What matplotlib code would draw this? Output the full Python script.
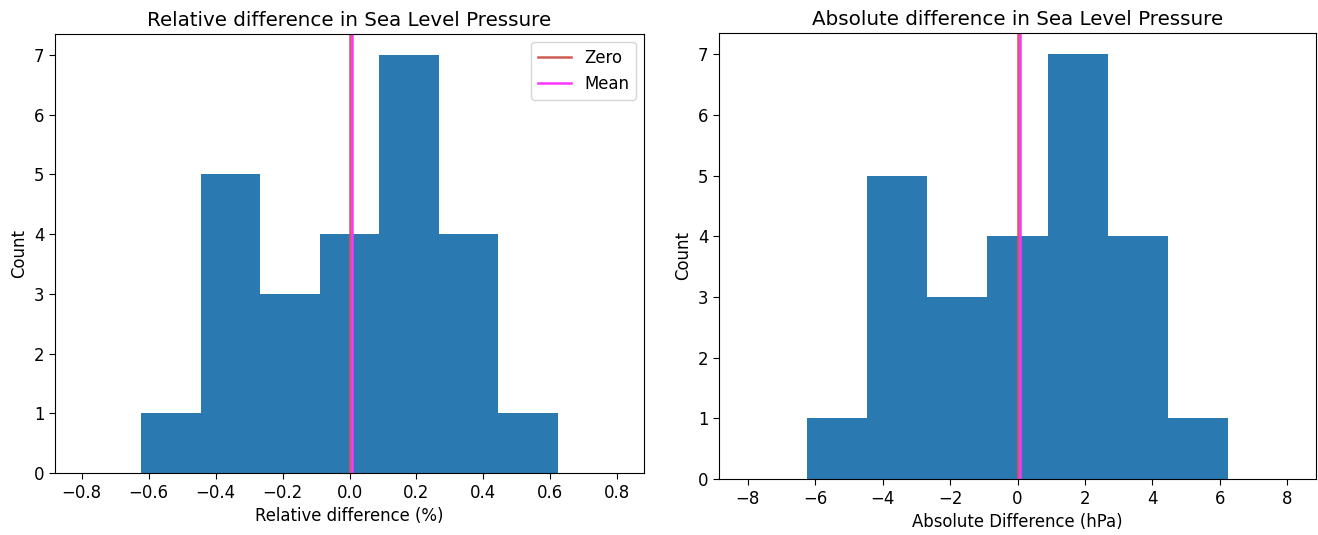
import numpy as np
import matplotlib
matplotlib.use('Agg')
import matplotlib.pyplot as plt

# histogram counts (same for both panels)
counts = [1, 5, 3, 4, 7, 4, 1]

# bin range and mean of each panel
rel_range = 0.622
rel_mean = 0.006
abs_range = 6.25
abs_mean = 0.065

rel_edges = np.linspace(-rel_range, rel_range, len(counts) + 1)
abs_edges = np.linspace(-abs_range, abs_range, len(counts) + 1)

# the reference looks like a default plot rendered a bit larger
plt.rcParams['font.size'] = 11.9
plt.rcParams['axes.titlesize'] = 14.3
plt.rcParams['xtick.major.size'] = 4.2
plt.rcParams['ytick.major.size'] = 4.2

fig = plt.figure(figsize=(13.18, 5.35), dpi=100)

# left panel: relative difference
ax1 = fig.add_axes([55 / 1318, 62 / 535, 589 / 1318, 439 / 535])
ax1.hist(rel_edges[:-1], bins=rel_edges, weights=counts, color='#2a79b1')
ax1.axvline(0, color='#d05a55', lw=1.8, label='Zero')
ax1.axvline(rel_mean, color='#ff33ff', lw=1.8, label='Mean')
ax1.set_xlim(-0.88, 0.88)
ax1.set_title('Relative difference in Sea Level Pressure')
ax1.set_xlabel('Relative difference (%)')
ax1.set_ylabel('Count')
ax1.legend(loc='upper right')

# right panel: absolute difference
ax2 = fig.add_axes([719 / 1318, 56 / 535, 597 / 1318, 446 / 535])
ax2.hist(abs_edges[:-1], bins=abs_edges, weights=counts, color='#2a79b1')
ax2.axvline(0, color='#d05a55', lw=1.8, label='Zero')
ax2.axvline(abs_mean, color='#ff33ff', lw=1.8, label='Mean')
ax2.set_xlim(-8.85, 8.85)
ax2.set_title('Absolute difference in Sea Level Pressure')
ax2.set_xlabel('Absolute Difference (hPa)')
ax2.set_ylabel('Count')

fig.savefig('out.png', dpi=100)
